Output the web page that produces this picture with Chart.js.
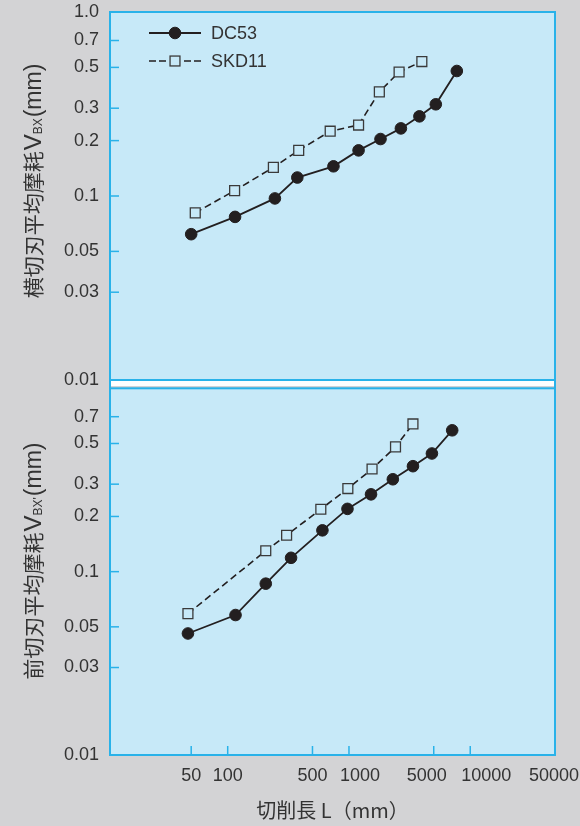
<!DOCTYPE html>
<html><head><meta charset="utf-8">
<script src="https://cdn.jsdelivr.net/npm/chart.js@4/dist/chart.umd.min.js"></script>
<style>
html,body{margin:0;padding:0;background:#d3d3d5;}
body{width:580px;height:826px;position:relative;overflow:hidden;}
#topBox{position:absolute;left:0;top:0;width:580px;height:400px;}
#botBox{position:absolute;left:0;top:380px;width:580px;height:446px;}
</style></head><body>
<div id="topBox"><canvas id="topChart"></canvas></div>
<div id="botBox"><canvas id="botChart"></canvas></div>
<script>
// ---------- data ----------
const seriesNames = ['DC53', 'SKD11'];
// upper panel: 横切刃平均摩耗 VBX
const topDC53_L  = [50, 115, 245, 375, 745, 1200, 1820, 2680, 3810, 5200, 7750];
const topDC53_V  = [0.062, 0.077, 0.097, 0.126, 0.145, 0.177, 0.204, 0.233, 0.271, 0.315, 0.478];
const topSKD11_L = [54, 114, 238, 385, 700, 1200, 1780, 2590, 3990];
const topSKD11_V = [0.081, 0.107, 0.143, 0.177, 0.225, 0.243, 0.368, 0.472, 0.538];
// lower panel: 前切刃平均摩耗 VBX'
const botDC53_L  = [47, 116, 206, 333, 604, 972, 1520, 2300, 3370, 4830, 7100];
const botDC53_V  = [0.046, 0.058, 0.086, 0.119, 0.168, 0.220, 0.264, 0.319, 0.376, 0.441, 0.590];
const botSKD11_L = [47, 206, 306, 586, 979, 1550, 2420, 3370];
const botSKD11_V = [0.059, 0.130, 0.158, 0.219, 0.284, 0.363, 0.479, 0.639];
// ticks
const xTickValues = [50, 100, 500, 1000, 5000, 10000, 50000];
const xTickLabels = ['50', '100', '500', '1000', '5000', '10000', '50000'];
const yTickValuesTop = [1.0, 0.7, 0.5, 0.3, 0.2, 0.1, 0.05, 0.03, 0.01];
const yTickLabelsTop = ['1.0', '0.7', '0.5', '0.3', '0.2', '0.1', '0.05', '0.03', '0.01'];
const yTickValuesBot = [0.7, 0.5, 0.3, 0.2, 0.1, 0.05, 0.03, 0.01];
const yTickLabelsBot = ['0.7', '0.5', '0.3', '0.2', '0.1', '0.05', '0.03', '0.01'];
const xTitle = '切削長 L（mm）';
const yTitleTop = ['横切刃平均摩耗', 'V', 'BX', '(mm)'];
const yTitleBot = ['前切刃平均摩耗', 'V', "BX'", '(mm)'];

// ---------- styles ----------
const C = {panel:'#c7e9f8', border:'#29b2e9', text:'#333333', ink:'#231f20', sq:'#3a3a3a'};
const LATIN = '"Liberation Sans", Arial, sans-serif';
const CJK = '"Noto Sans CJK JP", sans-serif';
const xLabelShift = [0, 0, 0, 11, -7, 16, -1];

function pts(xs, ys){ return xs.map((x, i) => ({x: x, y: ys[i]})); }
function makeDatasets(dcL, dcV, skL, skV){
  return [
    {label: seriesNames[0], data: pts(dcL, dcV), borderColor: C.ink, backgroundColor: C.ink,
     borderWidth: 1.8, pointStyle: 'circle', pointRadius: 5.8, pointBorderWidth: 1,
     pointBackgroundColor: C.ink, pointBorderColor: C.ink, tension: 0},
    {label: seriesNames[1], data: pts(skL, skV), borderColor: C.ink, backgroundColor: C.panel,
     borderWidth: 1.6, borderDash: [7, 4], pointStyle: 'rect', pointRadius: 7, pointBorderWidth: 1.3,
     pointBackgroundColor: C.panel, pointBorderColor: C.sq, tension: 0}
  ];
}

const panelPlugin = {
  id: 'panel',
  beforeDraw(chart){
    const {ctx, chartArea: a} = chart;
    ctx.save();
    ctx.fillStyle = C.panel;
    ctx.fillRect(a.left, a.top, a.right - a.left, a.bottom - a.top);
    ctx.restore();
  },
  beforeDatasetsDraw(chart, args, opts){
    const {ctx, chartArea: a, scales} = chart;
    ctx.save();
    ctx.strokeStyle = C.border;
    ctx.lineWidth = 1.5;
    (opts.yTicks || []).forEach(v => {
      const p = scales.y.getPixelForValue(v);
      ctx.beginPath(); ctx.moveTo(a.left, p); ctx.lineTo(a.left + 9, p); ctx.stroke();
    });
    (opts.xTicks || []).forEach(v => {
      const p = scales.x.getPixelForValue(v);
      ctx.beginPath(); ctx.moveTo(p, a.bottom); ctx.lineTo(p, a.bottom - 9); ctx.stroke();
    });
    ctx.lineWidth = 2;
    ctx.strokeRect(a.left, a.top, a.right - a.left, a.bottom - a.top);
    if (opts.sepBelow) {
      ctx.fillStyle = '#ffffff';
      ctx.fillRect(a.left + 1, a.bottom + 1, a.right - a.left - 2, 5);
      ctx.beginPath();
      ctx.moveTo(a.left, a.bottom); ctx.lineTo(a.left, a.bottom + 8);
      ctx.moveTo(a.right, a.bottom); ctx.lineTo(a.right, a.bottom + 8);
      ctx.stroke();
    }
    ctx.restore();
  }
};

const yTitlePlugin = {
  id: 'yTitle',
  afterDraw(chart, args, opts){
    if (!opts.parts) return;
    const ctx = chart.ctx;
    const fonts = ['21px ' + CJK, '24px ' + LATIN, '12px ' + LATIN, '23px ' + LATIN];
    const dys = [0, 0, 1, 0];
    const gaps = [1, 0, 1, 0];
    ctx.save();
    let total = 0; const w = [];
    opts.parts.forEach((t, i) => { ctx.font = fonts[i]; w[i] = ctx.measureText(t).width + gaps[i]; total += w[i]; });
    ctx.translate(opts.x, opts.y);
    ctx.rotate(-Math.PI / 2);
    ctx.fillStyle = C.text;
    ctx.textBaseline = 'alphabetic';
    ctx.textAlign = 'left';
    let x = -total / 2;
    opts.parts.forEach((t, i) => { ctx.font = fonts[i]; ctx.fillText(t, x, dys[i]); x += w[i]; });
    ctx.restore();
  }
};

const legendPlugin = {
  id: 'lineLegend',
  afterDraw(chart, args, opts){
    if (!opts.show) return;
    const {ctx, chartArea: a} = chart;
    chart.data.datasets.forEach((ds, i) => {
      const y = a.top + 21 + i * 28;
      const x0 = a.left + 39, x1 = a.left + 91, xm = (x0 + x1) / 2;
      ctx.save();
      ctx.strokeStyle = ds.borderColor;
      ctx.lineWidth = ds.borderWidth;
      if (ds.borderDash) {
        ctx.setLineDash([7, 3]);
        ctx.beginPath(); ctx.moveTo(x0, y); ctx.lineTo(xm - 8, y); ctx.stroke();
        ctx.beginPath(); ctx.moveTo(x1, y); ctx.lineTo(xm + 8, y); ctx.stroke();
        ctx.setLineDash([]);
      } else {
        ctx.beginPath(); ctx.moveTo(x0, y); ctx.lineTo(x1, y); ctx.stroke();
      }
      ctx.fillStyle = ds.pointBackgroundColor;
      ctx.strokeStyle = ds.pointBorderColor;
      ctx.lineWidth = ds.pointBorderWidth;
      if (ds.pointStyle === 'rect') {
        const s = ds.pointRadius * Math.SQRT1_2;
        ctx.fillRect(xm - s, y - s, 2 * s, 2 * s);
        ctx.strokeRect(xm - s, y - s, 2 * s, 2 * s);
      } else {
        ctx.beginPath(); ctx.arc(xm, y, ds.pointRadius, 0, Math.PI * 2); ctx.fill(); ctx.stroke();
      }
      ctx.fillStyle = C.text;
      ctx.font = '18px ' + LATIN;
      ctx.textBaseline = 'middle';
      ctx.textAlign = 'left';
      ctx.fillText(ds.label, a.left + 101, y + 1);
      ctx.restore();
    });
  }
};

const xLabelPlugin = {
  id: 'xLabels',
  afterDraw(chart, args, opts){
    if (!opts.show) return;
    const {ctx, chartArea: a, scales} = chart;
    ctx.save();
    ctx.fillStyle = C.text;
    ctx.font = '18px ' + LATIN;
    ctx.textAlign = 'center';
    ctx.textBaseline = 'alphabetic';
    xTickValues.forEach((v, i) => {
      ctx.fillText(xTickLabels[i], scales.x.getPixelForValue(v) + xLabelShift[i], a.bottom + 26);
    });
    ctx.restore();
  }
};

function xScale(show){
  return {
    type: 'logarithmic', min: 10.7, max: 50000, display: show,
    afterBuildTicks: s => { s.ticks = xTickValues.map(v => ({value: v})); },
    ticks: {display: false},
    grid: {display: false, drawTicks: false}, border: {display: false},
    title: {display: show, text: xTitle, color: C.text, font: {family: CJK, size: 20}, padding: {top: 0, bottom: 4}},
    afterFit: s => { if (show) s.height = 71; s.paddingLeft = 0; s.paddingRight = 0; }
  };
}
function yScale(vals, labels){
  return {
    type: 'logarithmic', min: 0.01, max: 1.0,
    afterBuildTicks: s => { s.ticks = vals.map(v => ({value: v})); },
    ticks: {callback: (v, i) => labels[i], font: {family: LATIN, size: 18}, color: C.text, padding: 11, autoSkip: false},
    grid: {display: false, drawTicks: false}, border: {display: false},
    afterFit: s => { s.width = 110; s.paddingTop = 0; s.paddingBottom = 0; }
  };
}

function build(id, datasets, yVals, yLabels, isBottom, titleParts, titleY){
  return new Chart(document.getElementById(id), {
    type: 'line',
    data: {datasets: datasets},
    options: {
      responsive: true, maintainAspectRatio: false, animation: false, events: [],
      layout: {padding: isBottom ? {top: 7, right: 25, bottom: 0, left: 0} : {top: 12, right: 25, bottom: 20, left: 0}},
      scales: {x: xScale(isBottom), y: yScale(yVals, yLabels)},
      plugins: {
        legend: {display: false}, tooltip: {enabled: false},
        panel: {yTicks: yVals, xTicks: isBottom ? xTickValues : null, sepBelow: !isBottom},
        yTitle: {parts: titleParts, x: 41, y: titleY},
        lineLegend: {show: !isBottom},
        xLabels: {show: isBottom}
      }
    },
    plugins: [panelPlugin, yTitlePlugin, legendPlugin, xLabelPlugin]
  });
}

build('topChart', makeDatasets(topDC53_L, topDC53_V, topSKD11_L, topSKD11_V),
      yTickValuesTop, yTickLabelsTop, false, yTitleTop, 181);
build('botChart', makeDatasets(botDC53_L, botDC53_V, botSKD11_L, botSKD11_V),
      yTickValuesBot, yTickLabelsBot, true, yTitleBot, 181);
</script>
</body></html>
